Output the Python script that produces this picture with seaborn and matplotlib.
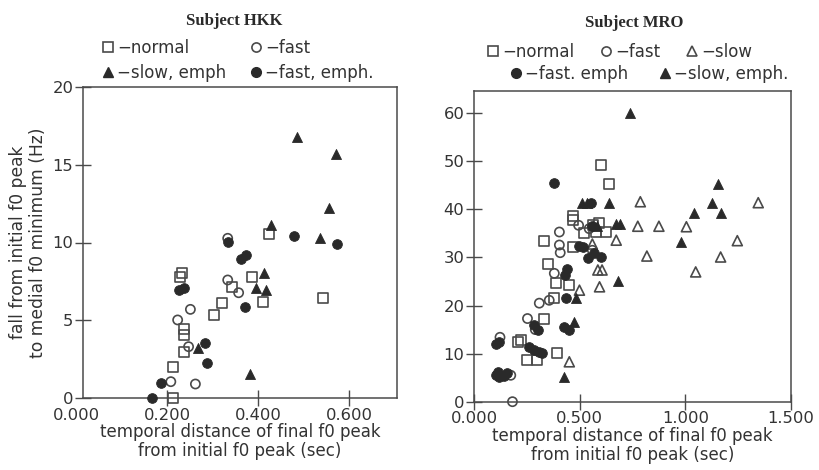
import matplotlib
matplotlib.use("Agg")
import matplotlib.pyplot as plt
import seaborn as sns
import pandas as pd
from matplotlib.lines import Line2D

# ---------------- data: Subject HKK ----------------
hkk_normal_t = [0.423, 0.232, 0.229, 0.386, 0.342, 0.320, 0.410, 0.302, 0.542, 0.236, 0.236, 0.236, 0.212, 0.212]
hkk_normal_f = [10.55, 8.02, 7.76, 7.76, 7.16, 6.13, 6.19, 5.34, 6.41, 4.42, 4.05, 2.98, 2.01, 0.0]
hkk_fast_t = [0.333, 0.333, 0.357, 0.251, 0.223, 0.247, 0.208, 0.262]
hkk_fast_f = [10.27, 7.59, 6.77, 5.70, 5.02, 3.30, 1.05, 0.90]
hkk_slowemph_t = [0.485, 0.571, 0.555, 0.428, 0.536, 0.413, 0.396, 0.418, 0.382, 0.267]
hkk_slowemph_f = [16.76, 15.69, 12.20, 11.13, 10.27, 8.02, 7.05, 6.95, 1.54, 3.19]
hkk_fastemph_t = [0.333, 0.362, 0.374, 0.478, 0.573, 0.225, 0.237, 0.371, 0.284, 0.287, 0.186, 0.166]
hkk_fastemph_f = [10.05, 8.95, 9.20, 10.42, 9.88, 6.95, 7.05, 5.83, 3.56, 2.23, 0.99, 0.0]

# ---------------- data: Subject MRO ----------------
mro_normal_t = [0.602, 0.638, 0.467, 0.470, 0.562, 0.590, 0.625, 0.522, 0.332, 0.467, 0.348, 0.388, 0.451,
                0.380, 0.332, 0.206, 0.222, 0.253, 0.296, 0.391, 0.578]
mro_normal_f = [49.2, 45.3, 38.6, 37.8, 36.7, 37.1, 35.3, 35.0, 33.5, 32.1, 28.6, 24.6, 24.3,
                21.5, 17.3, 12.5, 12.8, 8.7, 8.7, 10.2, 35.3]
mro_fast_t = [0.404, 0.404, 0.408, 0.495, 0.380, 0.309, 0.356, 0.253, 0.290, 0.123, 0.174, 0.182, 0.545, 0.560]
mro_fast_f = [35.3, 32.6, 31.0, 36.7, 26.7, 20.5, 21.1, 17.3, 15.0, 13.4, 5.5, 0.0, 36.0, 31.5]
mro_slow_t = [0.787, 0.775, 0.875, 1.005, 1.345, 1.246, 0.818, 1.167, 1.049, 0.673, 0.586, 0.606, 0.594,
              0.499, 0.451, 0.560]
mro_slow_f = [41.6, 36.5, 36.5, 36.4, 41.4, 33.5, 30.3, 30.1, 27.0, 33.6, 27.4, 27.4, 23.9,
              23.2, 8.3, 32.8]
mro_fastemph_t = [0.380, 0.554, 0.495, 0.514, 0.538, 0.570, 0.602, 0.560, 0.440, 0.432, 0.435, 0.427, 0.451,
                  0.285, 0.301, 0.103, 0.119, 0.261, 0.285, 0.309, 0.324, 0.103, 0.120, 0.140, 0.155, 0.115]
mro_fastemph_f = [45.5, 41.4, 32.4, 32.2, 29.8, 30.9, 30.1, 36.5, 27.7, 26.3, 21.5, 15.6, 14.9,
                  15.9, 15.0, 12.1, 12.5, 11.4, 10.7, 10.4, 10.1, 5.5, 5.2, 5.4, 5.9, 6.2]
mro_slowemph_t = [0.736, 1.155, 1.127, 1.171, 1.040, 0.981, 0.511, 0.533, 0.641, 0.673, 0.689, 0.680,
                  0.483, 0.475, 0.427, 0.580]
mro_slowemph_f = [60.0, 45.3, 41.4, 39.3, 39.3, 33.3, 41.4, 41.4, 41.4, 36.9, 36.9, 25.2,
                  21.5, 16.6, 5.2, 36.5]

hkk_xticks = [0.2, 0.4, 0.6]
hkk_xticklabels = ["0.200", "0.400", "0.600"]
hkk_yticks = [0, 5, 10, 15, 20]
mro_xticks = [0.0, 0.5, 1.0, 1.5]
mro_xticklabels = ["0.000", "0.500", "1.000", "1.500"]
mro_yticks = [0, 10, 20, 30, 40, 50, 60]


def frame(pairs):
    rows = []
    for cond, (t, f) in pairs.items():
        for a, b in zip(t, f):
            rows.append({"t": a, "fall": b, "cond": cond})
    return pd.DataFrame(rows)


hkk = frame({
    "normal": (hkk_normal_t, hkk_normal_f),
    "fast": (hkk_fast_t, hkk_fast_f),
    "slow, emph": (hkk_slowemph_t, hkk_slowemph_f),
    "fast, emph": (hkk_fastemph_t, hkk_fastemph_f),
})
mro = frame({
    "normal": (mro_normal_t, mro_normal_f),
    "fast": (mro_fast_t, mro_fast_f),
    "slow": (mro_slow_t, mro_slow_f),
    "fast, emph": (mro_fastemph_t, mro_fastemph_f),
    "slow, emph": (mro_slowemph_t, mro_slowemph_f),
})

INK = "#2a2a2a"
LINE = "#4a4a4a"
TXT = "#333333"
STYLE = {
    "normal": dict(marker="s", size=7.2, filled=False),
    "fast": dict(marker="o", size=6.6, filled=False),
    "slow": dict(marker="^", size=7.2, filled=False),
    "fast, emph": dict(marker="o", size=7.0, filled=True),
    "slow, emph": dict(marker="^", size=7.2, filled=True),
}

sns.set_style("ticks")
plt.rcParams["font.family"] = ["DejaVu Sans"]

fig = plt.figure(figsize=(8.19, 4.70), dpi=100)
fig.patch.set_facecolor("white")
ax1 = fig.add_axes([83 / 819, (470 - 398) / 470, 314 / 819, 311 / 470])
ax2 = fig.add_axes([474 / 819, (470 - 401.7) / 470, 317 / 819, 311 / 470])


def draw(ax, df):
    for cond, st in STYLE.items():
        sub = df[df["cond"] == cond]
        if sub.empty:
            continue
        if st["filled"]:
            sns.scatterplot(data=sub, x="t", y="fall", ax=ax, marker=st["marker"], s=st["size"] ** 2,
                            color=INK, edgecolor=INK, linewidth=0.6, clip_on=False, zorder=3, legend=False)
        else:
            sns.scatterplot(data=sub, x="t", y="fall", ax=ax, marker=st["marker"], s=st["size"] ** 2,
                            facecolor="none", edgecolor=LINE, linewidth=1.2, clip_on=False, zorder=3,
                            legend=False)


draw(ax1, hkk)
draw(ax2, mro)

for ax in (ax1, ax2):
    for sp in ax.spines.values():
        sp.set_visible(True)
        sp.set_color(LINE)
        sp.set_linewidth(1.1)
    ax.tick_params(direction="inout", length=11, width=1.0, color=LINE, labelsize=11.8,
                   labelcolor=TXT, pad=1.5)
    ax.set_facecolor("white")
    ax.set_xlabel("temporal distance of final f0 peak\nfrom initial f0 peak (sec)", fontsize=12,
                  color=TXT, labelpad=0.5, linespacing=1.05)

ax1.set_xlim(0.015, 0.705)
ax1.set_ylim(0, 20)
ax1.set_xticks(hkk_xticks)
ax1.set_xticklabels(hkk_xticklabels)
ax1.set_yticks(hkk_yticks)
ax1.annotate("0.000", xy=(0.0, 0), xycoords=("data", "axes fraction"), xytext=(0, -7),
             textcoords="offset points", ha="center", va="top", fontsize=11.8, color=TXT,
             annotation_clip=False)
ax1.set_ylabel("fall from initial f0 peak\nto medial f0 minimum (Hz)", fontsize=12.3, color=TXT,
               labelpad=4, linespacing=1.1)

ax2.set_xlim(0, 1.5)
ax2.set_ylim(0, 64.7)
ax2.set_xticks(mro_xticks)
ax2.set_xticklabels(mro_xticklabels)
ax2.set_yticks(mro_yticks)
ax2.set_ylabel("")

fig.text(234 / 819, 1 - 21 / 470, "Subject HKK", ha="center", va="center", fontsize=12,
         family="Liberation Serif", weight="bold", color="#2a2a2a")
fig.text(634 / 819, 1 - 23 / 470, "Subject MRO", ha="center", va="center", fontsize=12,
         family="Liberation Serif", weight="bold", color="#2a2a2a")


def handle(cond, label):
    st = STYLE[cond]
    if st["filled"]:
        return Line2D([], [], linestyle="none", marker=st["marker"], markersize=st["size"],
                      markerfacecolor=INK, markeredgecolor=INK, label=label)
    return Line2D([], [], linestyle="none", marker=st["marker"], markersize=st["size"],
                  markerfacecolor="none", markeredgecolor=LINE, markeredgewidth=1.2, label=label)


leg_kw = dict(frameon=False, fontsize=12, handlelength=0.8, handletextpad=0.15, borderpad=0,
              borderaxespad=0, labelcolor=TXT, loc="upper left")

fig.legend(handles=[handle("normal", "\u2212normal"), handle("slow, emph", "\u2212slow, emph"),
                    handle("fast", "\u2212fast"), handle("fast, emph", "\u2212fast, emph.")],
           ncol=2, columnspacing=1.4, labelspacing=0.44,
           bbox_to_anchor=(101 / 819, 1 - 39 / 470), **leg_kw)
fig.legend(handles=[handle("normal", "\u2212normal"), handle("fast", "\u2212fast"),
                    handle("slow", "\u2212slow")],
           ncol=3, columnspacing=1.5, bbox_to_anchor=(486 / 819, 1 - 43 / 470), **leg_kw)
fig.legend(handles=[handle("fast, emph", "\u2212fast. emph"), handle("slow, emph", "\u2212slow, emph.")],
           ncol=2, columnspacing=1.8, bbox_to_anchor=(509 / 819, 1 - 65 / 470), **leg_kw)

fig.savefig("out.png", dpi=100, facecolor="white")
